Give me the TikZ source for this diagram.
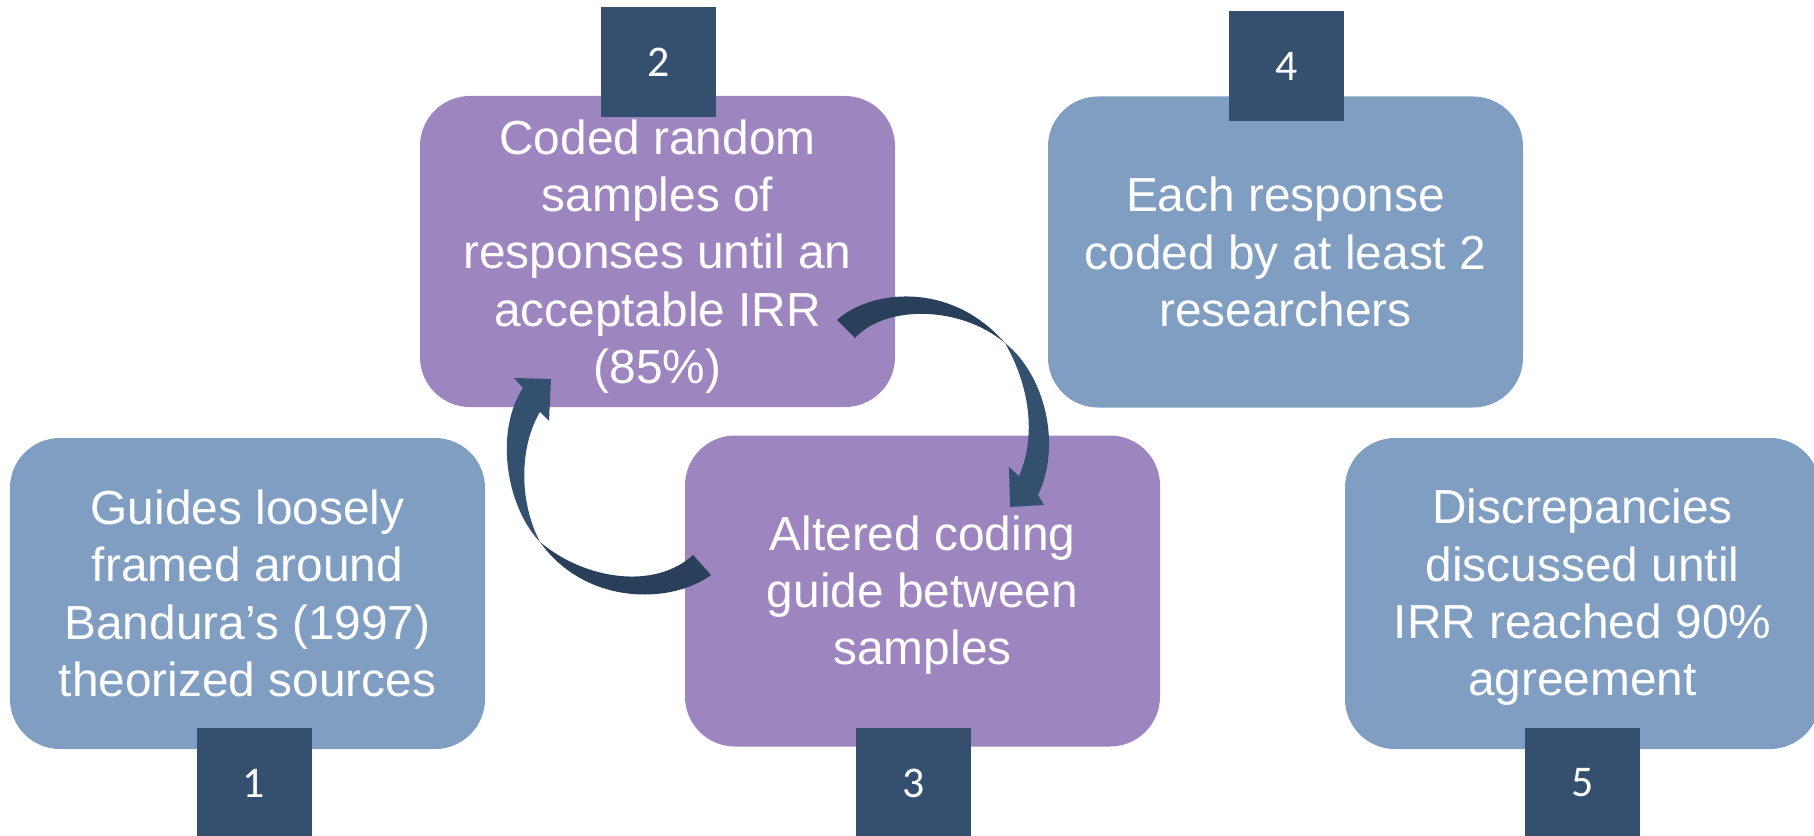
\documentclass[tikz,border=0pt]{standalone}
\usepackage{fontspec}
\setmainfont{Liberation Sans}
\newfontfamily\numfont{Carlito}
\definecolor{boxblue}{RGB}{128,158,194}
\definecolor{boxpurple}{RGB}{157,134,192}
\definecolor{numdark}{RGB}{53,80,110}
\definecolor{arrowdark}{RGB}{42,63,89}
\definecolor{arrowlight}{RGB}{51,80,111}
\tikzset{
  stepcard/.style={rectangle, rounded corners=50bp, minimum width=475bp, minimum height=311bp,
    inner sep=0pt, align=center, text=white, font=\fontsize{48}{57.5}\selectfont},
  bluecard/.style={stepcard, fill=boxblue},
  purplecard/.style={stepcard, fill=boxpurple},
  numtag/.style={rectangle, fill=numdark, minimum width=115bp, minimum height=110bp,
    inner sep=0pt, text=white, font=\numfont\fontsize{44}{44}\selectfont},
  tailpart/.style={fill=arrowdark},
  headpart/.style={fill=arrowlight},
}
\begin{document}
\begin{tikzpicture}[x=1bp,y=-1bp]
\useasboundingbox (0,0) rectangle (1814,836);
\clip (0,0) rectangle (1814,836);
\fill[white] (0,0) rectangle (1814,836);

% cards (boxes drawn at their places, text nudged to the reference)
\node[bluecard]   (b1) at (247.5,593.5) {Guides loosely\\framed around\\Bandura’s (1997)\\theorized sources};
\node[purplecard] (b2) at (657.5,251.5) {};
\node[purplecard] (b3) at (922.5,591)   {};
\node[bluecard]   (b4) at (1285.5,252)  {Each response\\coded by at least 2\\researchers};
\node[bluecard]   (b5) at (1582.5,593.5){};
\node[align=center, text=white, font=\fontsize{48}{57.5}\selectfont, inner sep=0pt]
  (t2) at ([yshift=-5bp]b2.center) {Coded random\\samples of\\responses until an\\acceptable IRR\\(85\%)};
\node[align=center, text=white, font=\fontsize{48}{57.5}\selectfont, inner sep=0pt]
  (t3) at ([yshift=-4bp]b3.center) {Altered coding\\guide between\\samples};
\node[align=center, text=white, font=\fontsize{48}{57.5}\selectfont, inner sep=0pt]
  (t5) at ([yshift=-4bp]b5.center) {Discrepancies\\discussed until\\IRR reached 90\%\\agreement};

% number tags
\node[numtag] (n1) at (254,783)    {1};
\node[numtag] (n2) at (658.5,62)   {2};
\node[numtag] (n3) at (913.5,783)  {3};
\node[numtag] (n4) at (1286.5,66)  {4};
\node[numtag] (n5) at (1582.5,783) {5};

% cycle arrow from card 2 to card 3
\coordinate (pa) at (1005,343);
\fill[tailpart] (837,320) .. controls (870,290) and (950,280) .. (pa)
   .. controls (960,305) and (885,305) .. (855,338) -- cycle;
\fill[headpart] (pa) .. controls (1045,375) and (1062,445) .. (1038,495)
   -- (1044,505) -- (1010,507) -- (1009,467) -- (1019,476)
   .. controls (1035,440) and (1032,390) .. (pa) -- cycle;

% cycle arrow from card 3 to card 2
\coordinate (pb) at (540,542);
\fill[tailpart] (711,575) .. controls (670,605) and (585,605) .. (pb)
   .. controls (585,580) and (655,590) .. (693,555) -- cycle;
\fill[headpart] (pb) .. controls (505,505) and (495,430) .. (523,388)
   -- (514,378) -- (551,379) -- (549,421) -- (540,412)
   .. controls (520,445) and (518,500) .. (pb) -- cycle;
\end{tikzpicture}
\end{document}
